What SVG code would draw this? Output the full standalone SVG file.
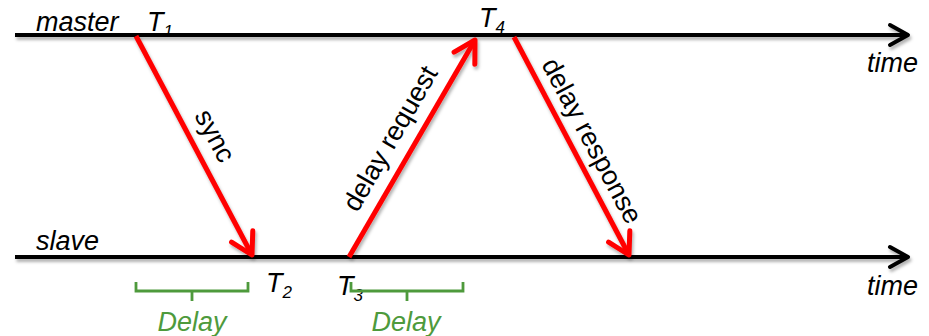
<svg xmlns="http://www.w3.org/2000/svg" width="929" height="336" viewBox="0 0 929 336">
<style>
.t{font-family:"Liberation Sans",Arial,sans-serif;font-size:27px;fill:#000}
.i{font-style:italic}
.sub{font-size:17px}
.g{fill:#4E9A3C}
.axis{stroke:#000;stroke-width:4;fill:none}
.msg{stroke:#FF0000;stroke-width:5;fill:none}
.br{stroke:#4E9A3C;stroke-width:2.8;fill:none}
</style>
<defs>
<filter id="sh" filterUnits="userSpaceOnUse" x="0" y="0" width="929" height="336">
<feDropShadow dx="1.5" dy="3" stdDeviation="1.5" flood-color="#000" flood-opacity="0.3"/>
</filter>
<marker id="ah" markerUnits="userSpaceOnUse" markerWidth="40" markerHeight="40" viewBox="-30 -20 40 40" refX="0" refY="0" orient="auto" overflow="visible">
<path d="M-21,-12 L0,0 L-21,12" fill="none" stroke="#FF0000" stroke-width="5" stroke-linecap="round" stroke-linejoin="round"/>
</marker>
<marker id="bh" markerUnits="userSpaceOnUse" markerWidth="40" markerHeight="40" viewBox="-30 -20 40 40" refX="0" refY="0" orient="auto" overflow="visible">
<path d="M-18,-10 L0,0 L-18,10" fill="none" stroke="#000" stroke-width="4" stroke-linecap="round" stroke-linejoin="round"/>
</marker>
</defs>
<g id="master">
<line class="axis" x1="15" y1="35" x2="908" y2="35" marker-end="url(#bh)" filter="url(#sh)"/>
<text class="t i" x="36" y="31">master</text>
<text class="t i" x="867" y="72">time</text>
</g>
<g id="slave">
<line class="axis" x1="15" y1="257" x2="908" y2="257" marker-end="url(#bh)" filter="url(#sh)"/>
<text class="t i" x="36" y="250">slave</text>
<text class="t i" x="867" y="295">time</text>
</g>
<g id="timestamps">
<text class="t i" x="147" y="31">T<tspan class="sub" dy="6">1</tspan></text>
<text class="t i" x="479" y="27">T<tspan class="sub" dy="6">4</tspan></text>
<text class="t i" x="266" y="292">T<tspan class="sub" dy="6">2</tspan></text>
<text class="t i" x="337" y="295">T<tspan class="sub" dy="6">3</tspan></text>
</g>
<g id="connectors">
<line class="msg" x1="136" y1="36" x2="252" y2="255" marker-end="url(#ah)" filter="url(#sh)"/>
<line class="msg" x1="349" y1="257" x2="475" y2="40" marker-end="url(#ah)" filter="url(#sh)"/>
<line class="msg" x1="514" y1="37" x2="629" y2="255" marker-end="url(#ah)" filter="url(#sh)"/>
<text class="t" transform="translate(207,140) rotate(62)" text-anchor="middle">sync</text>
<text class="t" transform="translate(398,143) rotate(-60)" text-anchor="middle">delay request</text>
<text class="t" transform="translate(584,145) rotate(62)" text-anchor="middle">delay response</text>
</g>
<g id="delay1">
<path class="br" d="M136,282 V291 H248 V282 M192,291 V301"/>
<text class="t i g" x="192" y="331" text-anchor="middle">Delay</text>
</g>
<g id="delay2">
<path class="br" d="M351,282 V291 H463 V282 M407,291 V301"/>
<text class="t i g" x="406" y="331" text-anchor="middle">Delay</text>
</g>
</svg>
